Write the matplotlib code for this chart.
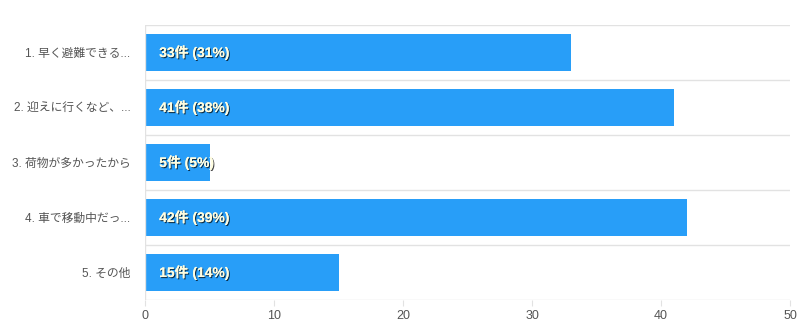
import matplotlib
matplotlib.use("Agg")
import matplotlib.pyplot as plt
import matplotlib.patheffects as pe

plt.rcParams['font.family'] = ['Liberation Sans', 'Noto Sans CJK JP', 'DejaVu Sans']

categories = ["1. 早く避難できる...", "2. 迎えに行くなど、...", "3. 荷物が多かったから",
              "4. 車で移動中だっ...", "5. その他"]
counts = [33, 41, 5, 42, 15]
percents = [31, 38, 5, 39, 14]
xticks = [0, 10, 20, 30, 40, 50]

bar_color = "#289EF8"
grid_color = "#E2E2E2"

fig = plt.figure(figsize=(8, 3.36), dpi=100)
ax = fig.add_axes([145 / 800, 1 - 300 / 336, 645 / 800, 275 / 336])

n = len(categories)
ypos = list(range(n))
ax.barh(ypos, counts, height=0.69, color=bar_color, zorder=3)
ax.set_ylim(n - 0.5, -0.5)
ax.set_xlim(0, 50)

# horizontal separators between categories
for i in range(n + 1):
    ax.axhline(i - 0.5, color=grid_color, lw=1, zorder=1)
ax.axvline(0, color=grid_color, lw=1, zorder=4)

for y, c, p in zip(ypos, counts, percents):
    ax.text(1.1, y, f"{c}件 ({p}%)", va="center", ha="left", fontsize=10,
            fontweight="bold", color="#FFFDE0", zorder=5,
            path_effects=[pe.withSimplePatchShadow(offset=(0.8, -0.8),
                                                   shadow_rgbFace="black", alpha=0.7),
                          pe.Normal()])

ax.set_yticks(ypos)
ax.set_yticklabels(categories, fontsize=8.5, color="#555555")
ax.tick_params(axis="y", length=0, pad=10.5)
ax.set_xticks(xticks)
ax.set_xticklabels([str(t) for t in xticks], fontsize=9, color="#555555")
ax.tick_params(axis="x", length=4, color=grid_color, pad=3)

for s in ax.spines.values():
    s.set_visible(False)

fig.savefig("out.png", dpi=100)
